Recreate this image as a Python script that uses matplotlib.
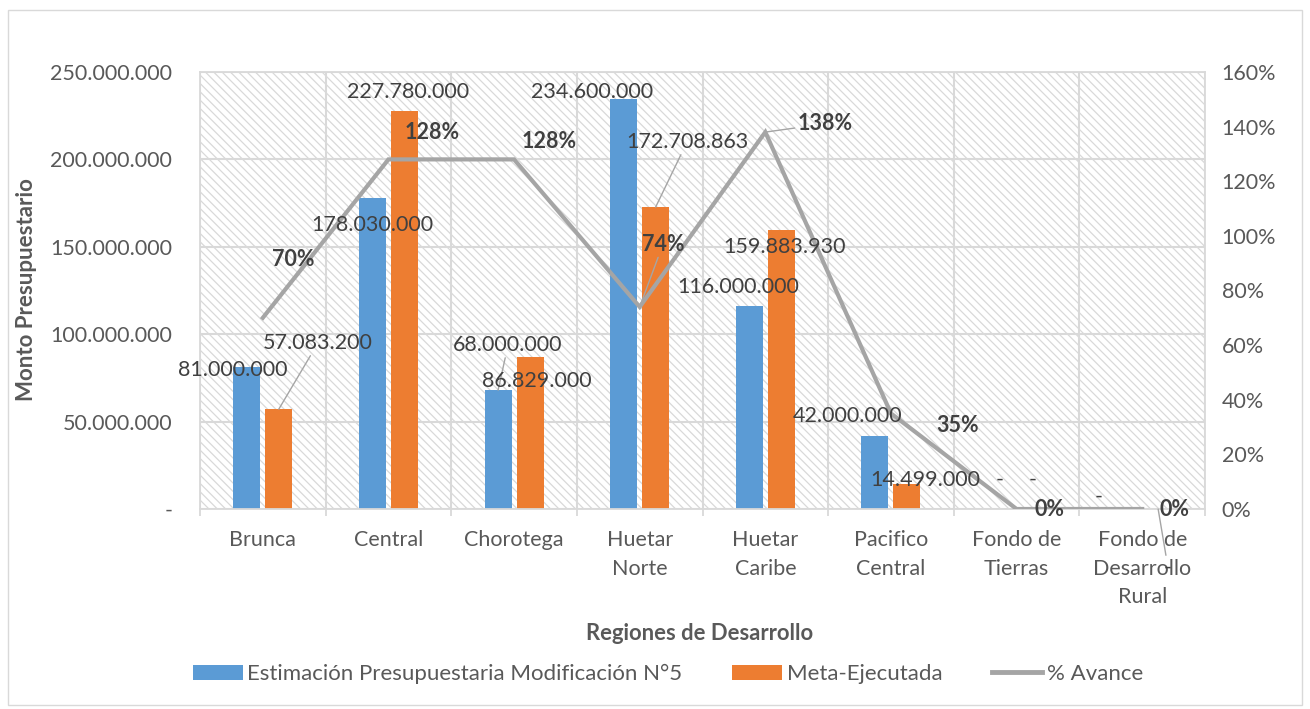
import matplotlib
matplotlib.use("Agg")
import matplotlib.pyplot as plt
from matplotlib.patches import Patch, Rectangle
from matplotlib.lines import Line2D
from matplotlib.ticker import FuncFormatter, MultipleLocator, FixedLocator
import numpy as np

plt.rcParams['font.family'] = ['Lato', 'DejaVu Sans']
plt.rcParams['hatch.linewidth'] = 0.9
plt.rcParams['hatch.color'] = '#d9d9d9'

categories = ["Brunca", "Central", "Chorotega", "Huetar\nNorte", "Huetar\nCaribe",
              "Pacifico\nCentral", "Fondo de\nTierras", "Fondo de\nDesarrollo\nRural"]
estimacion = [81000000, 178030000, 68000000, 234600000, 116000000, 42000000, 0, 0]
ejecutada = [57083200, 227780000, 86829000, 172708863, 159883930, 14499000, 0, 0]
avance = [0.70, 1.28, 1.28, 0.74, 1.38, 0.35, 0.0, 0.0]

est_labels = ["81.000.000", "178.030.000", "68.000.000", "234.600.000", "116.000.000",
              "42.000.000", "-", "-"]
eje_labels = ["57.083.200", "227.780.000", "86.829.000", "172.708.863", "159.883.930",
              "14.499.000", "-", "-"]
av_labels = ["70%", "128%", "128%", "74%", "138%", "35%", "0%", "0%"]

# label layout (data coords)
est_pos = [(-0.237, 79.5e6), (0.869, 162.5e6), (1.952, 93.8e6), (2.62, 238.6e6),
           (3.783, 127e6), (4.658, 53.2e6), (5.868, 16.6e6), (6.656, 6.9e6)]
est_leader = [False, False, True, False, False, False, False, False]
eje_pos = [(0.439, 95.0e6), (1.156, 238.6e6), (2.183, 73.2e6), (3.377, 210e6),
           (4.157, 149.9e6), (5.271, 16.6e6), (6.131, 16.6e6), (7.206, -33.8e6)]
eje_leader = [True, False, False, True, False, False, False, True]
av_pos = [(0.240, 0.912), (1.347, 1.377), (2.278, 1.344), (3.186, 0.970),
          (4.475, 1.41), (5.534, 0.3075), (6.266, 0.0), (7.261, 0.0)]
av_leader = [False, False, False, True, True, False, False, False]

BLUE = '#5B9BD5'
ORANGE = '#ED7D31'
GRAY = '#A5A5A5'
GRID = '#d9d9d9'
TXT = '#595959'
LBL = '#404040'
FS = 15.5

fig = plt.figure(figsize=(13.1, 7.09), dpi=100)
ax = fig.add_axes([200/1310, 1-509/709, (1205-200)/1310, (509-72)/709])

x = np.arange(len(categories))
w = 0.215
off = 0.127

# hatched background
ax.add_patch(Rectangle((0, 0), 1, 1, transform=ax.transAxes, facecolor='white',
                       edgecolor=GRID, hatch='\\\\\\\\', lw=0, zorder=0.1))

ax.bar(x - off, estimacion, w, color=BLUE, zorder=2)
ax.bar(x + off, ejecutada, w, color=ORANGE, zorder=2)

ax.set_xlim(-0.5, len(categories) - 0.5)
ax.set_ylim(0, 250e6)
ax.yaxis.set_major_locator(MultipleLocator(50e6))

def fmt_money(v, pos):
    if abs(v) < 1:
        return "-"
    return f"{int(round(v)):,}".replace(",", ".")

ax.yaxis.set_major_formatter(FuncFormatter(fmt_money))
ax.set_xticks(x)
ax.set_xticklabels(categories, linespacing=1.55)
ax.xaxis.set_minor_locator(FixedLocator(np.arange(-0.5, len(categories), 1.0)))
ax.tick_params(axis='x', which='major', length=0, pad=15, labelsize=FS, labelcolor=TXT)
ax.tick_params(axis='x', which='minor', length=5, width=1.3, color=GRID, direction='out')
ax.tick_params(axis='y', length=0, pad=20, labelsize=FS, labelcolor=TXT)
ax.set_axisbelow(True)
ax.grid(axis='y', which='major', color=GRID, lw=1.5, zorder=0.5)
ax.grid(axis='x', which='minor', color=GRID, lw=1.5, zorder=0.5)
for s in ax.spines.values():
    s.set_color(GRID)
    s.set_linewidth(1.3)

ax2 = ax.twinx()
ax2.plot(x, avance, color=GRAY, lw=3, solid_joinstyle='miter', zorder=3)
ax2.set_ylim(0, 1.6)
ax2.yaxis.set_major_locator(MultipleLocator(0.2))
ax2.yaxis.set_major_formatter(FuncFormatter(lambda v, p: f"{int(round(v*100))}%"))
ax2.tick_params(axis='y', length=0, pad=12, labelsize=FS, labelcolor=TXT)
for s in ax2.spines.values():
    s.set_visible(False)

lead = dict(arrowstyle='-', color=GRAY, lw=1, shrinkA=0, shrinkB=0)

for i in range(len(categories)):
    ap = lead if est_leader[i] else None
    ax2.annotate(est_labels[i], xy=(x[i] - off, estimacion[i]), xycoords=ax.transData,
                 xytext=est_pos[i], textcoords=ax.transData, ha='center', va='center',
                 fontsize=FS, color=LBL, arrowprops=ap, annotation_clip=False, zorder=5)
    ap = lead if eje_leader[i] else None
    ax2.annotate(eje_labels[i], xy=(x[i] + off, ejecutada[i]), xycoords=ax.transData,
                 xytext=eje_pos[i], textcoords=ax.transData, ha='center', va='center',
                 fontsize=FS, color=LBL, arrowprops=ap, annotation_clip=False, zorder=5)
    ap = lead if av_leader[i] else None
    ax2.annotate(av_labels[i], xy=(x[i], avance[i]), xycoords='data',
                 xytext=av_pos[i], textcoords='data', ha='center', va='center',
                 fontsize=FS, fontweight='bold', color=LBL, arrowprops=ap,
                 annotation_clip=False, zorder=5)

fig.text(27/1310, 1-290/709, "Monto Presupuestario", rotation=90, ha='center', va='center',
         fontsize=16, fontweight='bold', color=TXT)
fig.text(700/1310, 1-634/709, "Regiones de Desarrollo", ha='center', va='center',
         fontsize=15.8, fontweight='bold', color=TXT)

handles = [Patch(facecolor=BLUE, edgecolor='none'),
           Patch(facecolor=ORANGE, edgecolor='none'),
           Line2D([0], [0], color=GRAY, lw=3.5)]
leg = fig.legend(handles, ["Estimación Presupuestaria Modificación N°5", "Meta-Ejecutada", "% Avance"],
                 loc='center', bbox_to_anchor=(668/1310, 1-674/709), ncol=3, frameon=False,
                 fontsize=16, handlelength=2.25, handletextpad=0.2, columnspacing=2.25,
                 labelcolor=TXT)

fig.add_artist(Rectangle((8/1310, 1-705/709), (1302-8)/1310, (705-10)/709,
                         transform=fig.transFigure, fill=False, edgecolor=GRID, lw=1))

fig.savefig("out.png", dpi=100)
